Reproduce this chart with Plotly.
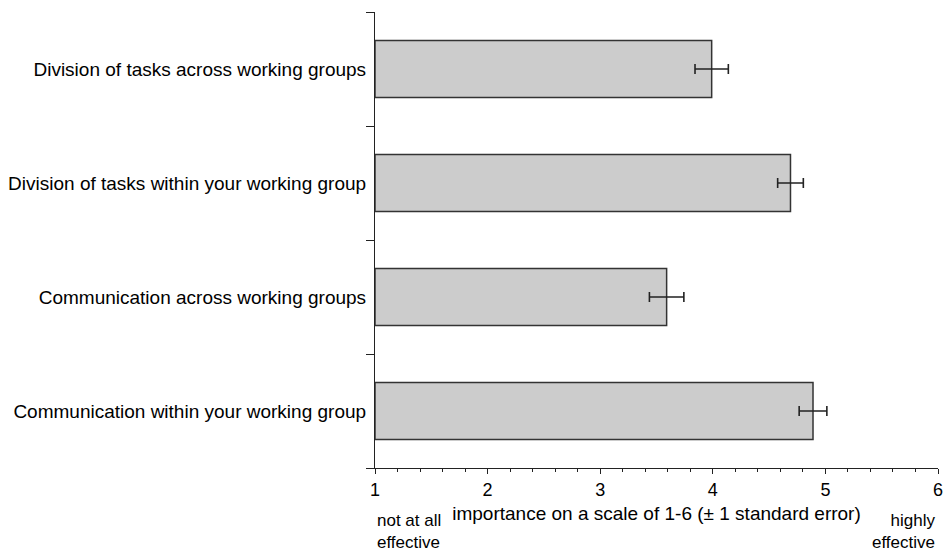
import plotly.graph_objects as go

# Survey items, listed top to bottom
categories = [
    "Division of tasks across working groups",
    "Division of tasks within your working group",
    "Communication across working groups",
    "Communication within your working group",
]
mean_scores = [3.99, 4.69, 3.59, 4.89]
std_errors = [0.148, 0.114, 0.153, 0.123]
x_ticks = [1, 2, 3, 4, 5, 6]

# Scale end-point captions
low_caption = "not at all<br>effective"
high_caption = "highly<br>effective"

FONT = "Liberation Sans, Arial, sans-serif"
INK = "#222222"

fig = go.Figure()
fig.add_trace(go.Bar(
    y=categories,
    x=[m - 1 for m in mean_scores],
    base=1,
    orientation="h",
    width=0.5,
    marker=dict(color="#cccccc", line=dict(color="#333333", width=1.5)),
    error_x=dict(type="data", array=std_errors, visible=True,
                 color=INK, thickness=1.6, width=5),
    showlegend=False,
))

fig.update_layout(
    width=946, height=554,
    margin=dict(l=375, r=8, t=12, b=86),
    paper_bgcolor="white", plot_bgcolor="white",
    font=dict(family=FONT, size=19, color="black"),
    bargap=0.5,
    xaxis=dict(
        range=[1, 6], tickvals=x_ticks, ticktext=[str(v) for v in x_ticks],
        automargin=False,
        showgrid=False, zeroline=False,
        showline=True, linecolor=INK, linewidth=1.2,
        ticks="outside", ticklen=5, tickwidth=1.2, tickcolor=INK,
        tickfont=dict(size=18),
        minor=dict(dtick=0.2, ticks="outside", ticklen=3, tickwidth=1, tickcolor=INK),
        title=dict(text="importance on a scale of 1-6 (± 1 standard error)",
                   font=dict(size=19), standoff=7),
    ),
    yaxis=dict(
        type="category", categoryorder="array", categoryarray=categories[::-1],
        range=[-0.5, 3.5], tickson="boundaries", automargin=False,
        showgrid=False, zeroline=False,
        showline=True, linecolor=INK, linewidth=1.2,
        ticks="outside", ticklen=8, tickwidth=1.2, tickcolor=INK,
        tickfont=dict(size=19), ticklabelstandoff=4,
    ),
)

# Captions sit at the very bottom of the page under each end of the scale
bottom = -86 / (554 - 12 - 86)
fig.add_annotation(text=low_caption, xref="x", yref="paper",
                   x=1, y=bottom, xanchor="left", yanchor="bottom", align="left",
                   showarrow=False, font=dict(size=17))
fig.add_annotation(text=high_caption, xref="x", yref="paper",
                   x=6, y=bottom, xanchor="right", yanchor="bottom", align="right",
                   showarrow=False, font=dict(size=17))

fig.write_html("out.html")
